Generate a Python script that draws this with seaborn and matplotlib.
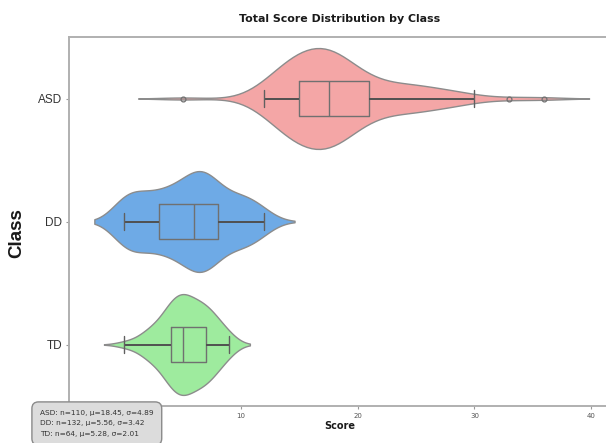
import numpy as np
import pandas as pd
import matplotlib
matplotlib.use("Agg")
import matplotlib.pyplot as plt
import seaborn as sns

# Score tallies per diagnostic class (score value -> number of children)
classes = ["ASD", "DD", "TD"]

asd_scores = [5, 12, 13, 14, 15, 16, 17, 18, 19, 20, 21, 22, 23, 24, 25, 26, 27, 28, 29, 30, 33, 36]
asd_counts = [1, 4, 6, 9, 12, 10, 13, 13, 9, 4, 6, 2, 3, 4, 3, 3, 1, 3, 1, 1, 1, 1]

dd_scores = [0, 1, 2, 3, 4, 5, 6, 7, 8, 9, 10, 11, 12]
dd_counts = [14, 8, 8, 9, 10, 11, 16, 20, 8, 8, 8, 8, 4]

td_scores = [0, 1, 2, 3, 4, 5, 6, 7, 8, 9]
td_counts = [1, 1, 4, 5, 11, 13, 10, 10, 6, 3]

class_colors = ["#F4A6A6", "#6EAAE6", "#9EEB9E"]
x_ticks = [0, 10, 20, 30, 40]
# the 0 label sits underneath the summary box
x_tick_labels = ["", "10", "20", "30", "40"]

frames = []
for name, sc, ct in [("ASD", asd_scores, asd_counts),
                     ("DD", dd_scores, dd_counts),
                     ("TD", td_scores, td_counts)]:
    frames.append(pd.DataFrame({"Class": name, "Score": np.repeat(sc, ct)}))
df = pd.concat(frames, ignore_index=True)
df["Class"] = pd.Categorical(df["Class"], categories=classes, ordered=True)

sns.set_theme(style="white")
plt.rcParams["font.family"] = ["DejaVu Sans"]

fig = plt.figure(figsize=(6.06, 4.43), dpi=100)
ax = fig.add_axes([69 / 606, 37 / 443, 542 / 606, 369 / 443])

ax.grid(axis="y", color="#e6e6e6", linewidth=0.9, zorder=0)
ax.set_axisbelow(True)

sns.violinplot(
    data=df, x="Score", y="Class", hue="Class", order=classes,
    hue_order=classes, palette=class_colors, saturation=1, inner=None,
    density_norm="width", width=0.82, linewidth=1.0, linecolor="#8c8c8c",
    legend=False, ax=ax,
)

sns.boxplot(
    data=df, x="Score", y="Class", order=classes, width=0.29,
    fill=False, color="#707070", linewidth=1.0, fliersize=3.5,
    whiskerprops={"color": "#505050", "linewidth": 1.4},
    capprops={"color": "#606060", "linewidth": 1.0},
    flierprops={"marker": "o", "markerfacecolor": "none",
                "markeredgecolor": "#707070", "markeredgewidth": 0.9},
    ax=ax,
)

ax.set_xlim(-4.75, 41.7)
ax.set_xticks(x_ticks)
ax.set_xticklabels(x_tick_labels, fontsize=5, color="#555555")
ax.tick_params(axis="x", length=2, width=0.8, color="#999999", pad=3, bottom=True)
ax.tick_params(axis="y", length=2, width=0.8, color="#999999", pad=3, left=True)
for lbl in ax.get_yticklabels():
    lbl.set_fontfamily("Liberation Sans")
    lbl.set_fontsize(8.5)
    lbl.set_color("#333333")

for side in ["top", "left", "bottom"]:
    ax.spines[side].set_visible(True)
    ax.spines[side].set_color("#b0b0b0")
    ax.spines[side].set_linewidth(1.4)
ax.spines["right"].set_visible(False)

ax.set_title("Total Score Distribution by Class", fontsize=7.9,
             fontweight="bold", color="#1a1a1a", pad=11)
ax.set_xlabel("Score", fontsize=7, fontweight="bold", color="#1a1a1a")
ax.xaxis.set_label_coords(0.5, -0.04)
ax.set_ylabel("Class", fontsize=13.5, fontweight="bold", color="#1a1a1a",
              fontfamily="Liberation Sans")
ax.yaxis.set_label_coords(-0.081, 0.47)

# Per-class summary box in the lower-left corner
stats = df.groupby("Class", observed=True)["Score"].agg(["count", "mean", "std"])
lines = [f"{c}: n={int(stats.loc[c, 'count'])}, \u03bc={stats.loc[c, 'mean']:.2f}, "
         f"\u03c3={stats.loc[c, 'std']:.2f}" for c in classes]
fig.text(40 / 606, 1 - 410 / 443, "\n".join(lines), fontsize=5.3,
         color="#333333", ha="left", va="top", linespacing=1.9,
         bbox=dict(boxstyle="round,pad=1.1,rounding_size=0.9",
                   facecolor="#dcdcdc", edgecolor="#8a8a8a", linewidth=1.0))

fig.savefig("out.png", dpi=100)
